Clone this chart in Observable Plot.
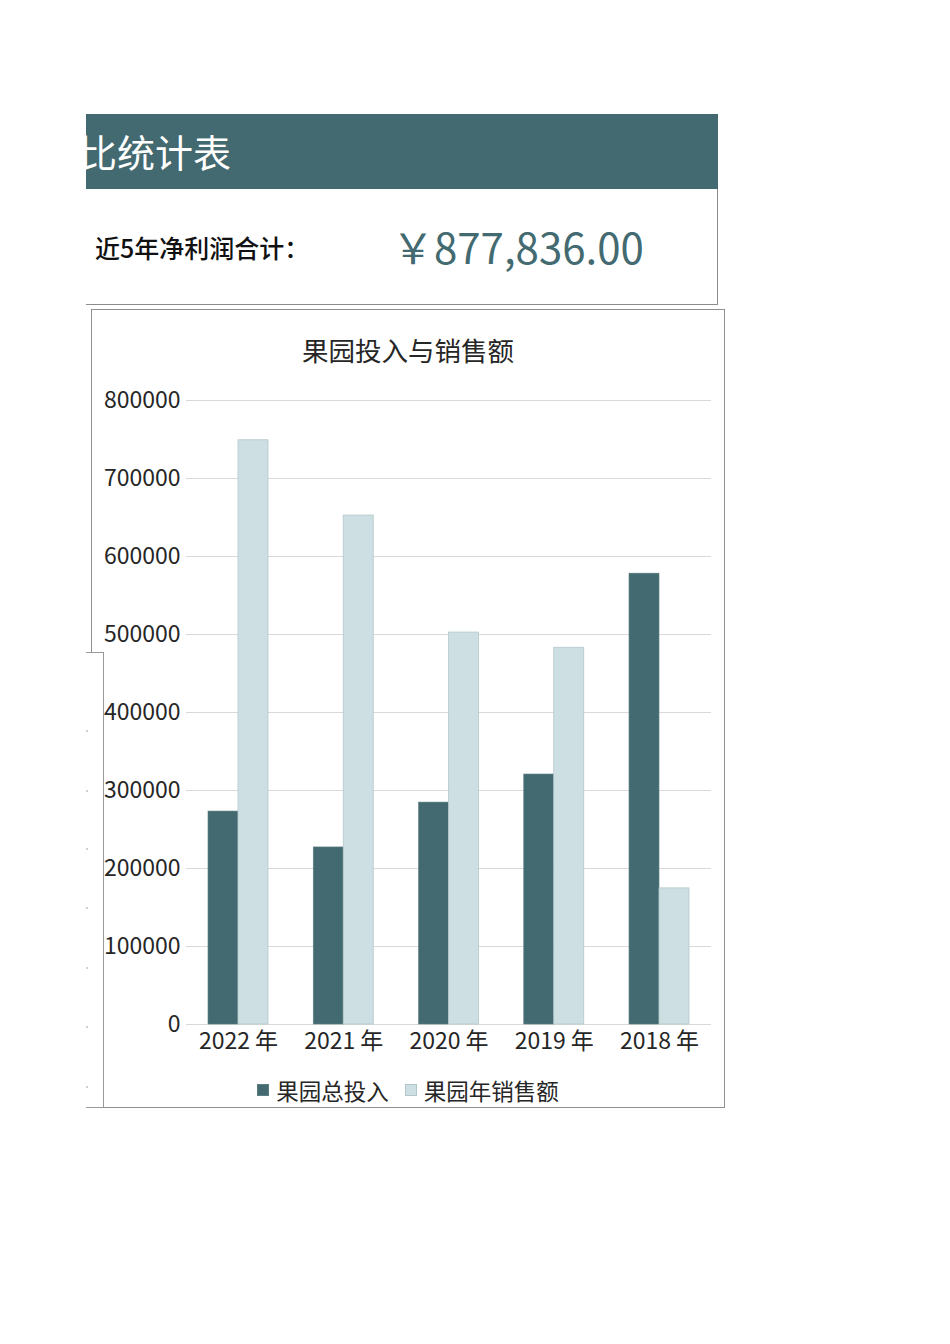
<!DOCTYPE html>
<html>
<head>
<meta charset="utf-8">
<script src="https://cdn.jsdelivr.net/npm/d3@7"></script>
<script src="https://cdn.jsdelivr.net/npm/@observablehq/plot@0.6"></script>
<style>
  html, body { margin: 0; padding: 0; background: #fff; }
  body { width: 950px; height: 1344px; position: relative; overflow: hidden;
         font-family: "Noto Sans CJK SC", "Noto Sans", sans-serif; }
  .abs { position: absolute; }
</style>
</head>
<body>
<div id="root"></div>
<script>
// ---- data ----
const years = ["2022 年", "2021 年", "2020 年", "2019 年", "2018 年"];
const investment = [273000, 227000, 284500, 320500, 578000];
const sales = [749000, 652500, 502500, 483000, 174500];
const seriesNames = ["果园总投入", "果园年销售额"];
const yTicks = [0, 100000, 200000, 300000, 400000, 500000, 600000, 700000, 800000];
const headerTitle = "比统计表";
const profitLabel = "近5年净利润合计：";
const profitValue = "￥877,836.00";
const chartTitle = "果园投入与销售额";
const leftDotsY = [730, 790, 848, 907, 967, 1026, 1086];

const TEAL = "#436a70";
const LIGHT = "#cddfe3";
const root = document.getElementById("root");

function el(tag, css, text) {
  const e = document.createElement(tag);
  e.className = "abs";
  e.style.cssText = css;
  if (text != null) e.textContent = text;
  root.appendChild(e);
  return e;
}

// header band (clipped on the left)
const header = el("div", `left:86px;top:114px;width:632px;height:75px;background:${TEAL};overflow:hidden;`);
const ht = document.createElement("div");
ht.style.cssText = "position:absolute;left:-7px;top:-1px;height:75px;line-height:75px;font-size:38px;color:#fff;white-space:nowrap;";
ht.textContent = headerTitle;
header.appendChild(ht);

// info box
el("div", "left:86px;top:189px;width:632px;height:116px;box-sizing:border-box;border-right:1px solid #8c8c8c;border-bottom:1px solid #8c8c8c;");
el("div", "left:95px;top:229px;height:36px;line-height:36px;font-size:25px;font-weight:500;color:#111;white-space:nowrap;", profitLabel);
el("div", `left:392px;top:219px;height:54px;line-height:54px;font-size:42px;color:${TEAL};white-space:nowrap;`, profitValue);

// chart frame
el("div", "left:91px;top:309px;width:634px;height:799px;box-sizing:border-box;border:1px solid #8f8f8f;background:#fff;");

// chart title
el("div", "left:91px;top:332px;width:634px;text-align:center;height:36px;line-height:36px;font-size:26.5px;color:#262626;", chartTitle);

// plot
const rows = [];
years.forEach((y, i) => {
  rows.push({year: y, series: seriesNames[0], value: investment[i]});
  rows.push({year: y, series: seriesNames[1], value: sales[i]});
});

const plot = Plot.plot({
  width: 633,
  height: 680,
  marginLeft: 96,
  marginRight: 12,
  marginTop: 20,
  marginBottom: 36,
  style: {fontFamily: "Noto Sans CJK SC", fontSize: "23px", color: "#262626", background: "transparent", overflow: "visible"},
  x: {domain: years, paddingInner: 0.43, paddingOuter: 0.209, round: false, label: null, tickSize: 0, tickPadding: 8},
  y: {domain: [0, 800000], ticks: yTicks, tickFormat: d => String(d), label: null, tickSize: 0, tickPadding: 6},
  marks: [
    Plot.ruleY(yTicks, {stroke: "#d9d9d9", strokeWidth: 1}),
    Plot.barY(rows.filter(d => d.series === seriesNames[0]), {x: "year", y: "value", fill: TEAL, stroke: "#5b7e83", strokeWidth: 0.6, insetRight: 30}),
    Plot.barY(rows.filter(d => d.series === seriesNames[1]), {x: "year", y: "value", fill: LIGHT, stroke: "#b3c7cb", strokeWidth: 0.8, insetLeft: 30})
  ]
});
plot.style.position = "absolute";
plot.style.left = "90px";
plot.style.top = "380px";
root.appendChild(plot);

// legend
const legend = el("div", "left:91px;top:1074px;width:634px;height:32px;display:flex;justify-content:center;align-items:center;font-size:22.5px;color:#262626;white-space:nowrap;");
[[seriesNames[0], TEAL, "#5b7e83"], [seriesNames[1], LIGHT, "#b3c7cb"]].forEach(([name, fill, stroke], i) => {
  const item = document.createElement("span");
  item.style.cssText = `display:inline-flex;align-items:center;margin-right:${i === 0 ? 16 : 0}px;`;
  const sw = document.createElement("span");
  sw.style.cssText = `display:inline-block;width:12px;height:12px;background:${fill};box-sizing:border-box;border:1px solid ${stroke};margin-right:7px;`;
  item.appendChild(sw);
  item.appendChild(document.createTextNode(name));
  legend.appendChild(item);
});

// leftover panel on the left edge (partially hidden sheet)
el("div", "left:70px;top:652px;width:34px;height:456px;box-sizing:border-box;border:1px solid #9a9a9a;background:#fff;");
leftDotsY.forEach(y => el("div", `left:86px;top:${y}px;width:2px;height:2px;background:#d0d0d0;`));

// white mask to clip everything left of x=86
el("div", "left:0;top:0;width:86px;height:1344px;background:#fff;");
</script>
</body>
</html>
